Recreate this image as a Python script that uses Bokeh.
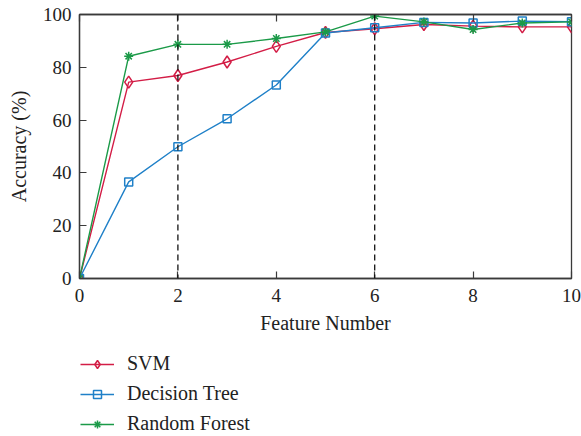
from bokeh.plotting import figure
from bokeh.layouts import column
from bokeh.models import Span, Legend, LegendItem, LinearAxis, FixedTicker, Range1d
from bokeh.embed import file_html
from bokeh.resources import INLINE

# Feature count vs. classification accuracy for three classifiers
feature_number = [0, 1, 2, 3, 4, 5, 6, 7, 8, 9, 10]
svm_acc = [0, 74.4, 76.9, 82.0, 87.9, 93.2, 94.6, 96.2, 95.6, 95.3, 95.3]
tree_acc = [0, 36.6, 49.9, 60.5, 73.3, 93.0, 95.0, 97.0, 96.8, 97.5, 97.3]
forest_acc = [0, 84.2, 88.7, 88.7, 90.9, 93.4, 99.4, 97.2, 94.3, 96.8, 97.2]
x_ticks = [0, 2, 4, 6, 8, 10]
y_ticks = [0, 20, 40, 60, 80, 100]
marked_features = [2, 6]

FONT = "Liberation Serif"
AXIS_COLOR = "#3a3a3a"
TEXT_COLOR = "#222222"

chart = figure(
    width=581, height=340,
    x_range=Range1d(0, 10), y_range=Range1d(0, 100),
    output_backend="svg", toolbar_location=None,
    min_border_left=79, min_border_right=10,
    min_border_top=14, min_border_bottom=62,
)
chart.background_fill_color = "white"
chart.border_fill_color = "white"
chart.outline_line_color = AXIS_COLOR
chart.outline_line_width = 1.3
chart.xgrid.visible = False
chart.ygrid.visible = False


def style_axis(ax, ticks):
    ax.ticker = FixedTicker(ticks=ticks)
    ax.axis_line_color = AXIS_COLOR
    ax.axis_line_width = 1.3
    ax.major_tick_line_color = AXIS_COLOR
    ax.major_tick_line_width = 1.2
    ax.major_tick_in = 7
    ax.major_tick_out = 0
    ax.minor_tick_line_color = None
    ax.major_label_text_font = FONT
    ax.major_label_text_font_size = "19px"
    ax.major_label_text_color = TEXT_COLOR
    ax.axis_label_text_font = FONT
    ax.axis_label_text_font_size = "20px"
    ax.axis_label_text_font_style = "normal"
    ax.axis_label_text_color = TEXT_COLOR


style_axis(chart.xaxis[0], x_ticks)
style_axis(chart.yaxis[0], y_ticks)
chart.xaxis[0].axis_label = "Feature Number"
chart.xaxis[0].major_label_standoff = 10
chart.xaxis[0].axis_label_standoff = 7
chart.yaxis[0].axis_label = "Accuracy (%)"
chart.yaxis[0].major_label_standoff = 8
chart.yaxis[0].axis_label_standoff = 10

# Mirrored tick marks along the top edge, without labels
top_axis = LinearAxis()
style_axis(top_axis, x_ticks)
top_axis.major_label_overrides = {t: "" for t in x_ticks}
top_axis.major_label_standoff = 0
chart.add_layout(top_axis, "above")

# Dashed reference lines at selected feature counts
for xv in marked_features:
    chart.add_layout(Span(location=xv, dimension="height", line_color="#111111",
                          line_dash="6 4", line_width=1.3))

series = [
    ("SVM", svm_acc, "#d31d46", "diamond", 12),
    ("Decision Tree", tree_acc, "#1f80c8", "square", 8),
    ("Random Forest", forest_acc, "#1b9a48", "asterisk", 9),
]

for name, vals, color, marker, size in series:
    chart.line(feature_number, vals, line_color=color, line_width=1.4)
    chart.scatter(feature_number, vals, marker=marker, size=size,
                  line_color=color, line_width=1.5, fill_color=None)

# Key drawn in its own strip under the chart; its view range lies away
# from the data so only the legend samples show
key = figure(
    width=581, height=96,
    x_range=Range1d(-20, -10), y_range=Range1d(-20, -10),
    output_backend="svg", toolbar_location=None,
    x_axis_location=None, y_axis_location=None,
    min_border=0,
)
key.outline_line_color = None
key.xgrid.visible = False
key.ygrid.visible = False
key.border_fill_color = "white"
key.background_fill_color = "white"

items = []
for name, vals, color, marker, size in series:
    ln = key.line(feature_number, vals, line_color=color, line_width=1.4)
    sc = key.scatter(feature_number, vals, marker=marker, size=size - 1,
                     line_color=color, line_width=1.5, fill_color=None)
    items.append(LegendItem(label=name, renderers=[ln, sc], index=0))

legend = Legend(
    items=items, location=(1, 1),
    glyph_width=34, glyph_height=20, spacing=7,
    label_standoff=13, padding=0, margin=0,
    border_line_color=None, background_fill_alpha=0,
)
legend.label_text_font = FONT
legend.label_text_font_size = "20px"
legend.label_text_color = TEXT_COLOR
key.add_layout(legend, "center")

p = column(chart, key, spacing=0)
open("out.html", "w").write(file_html(p, INLINE))
